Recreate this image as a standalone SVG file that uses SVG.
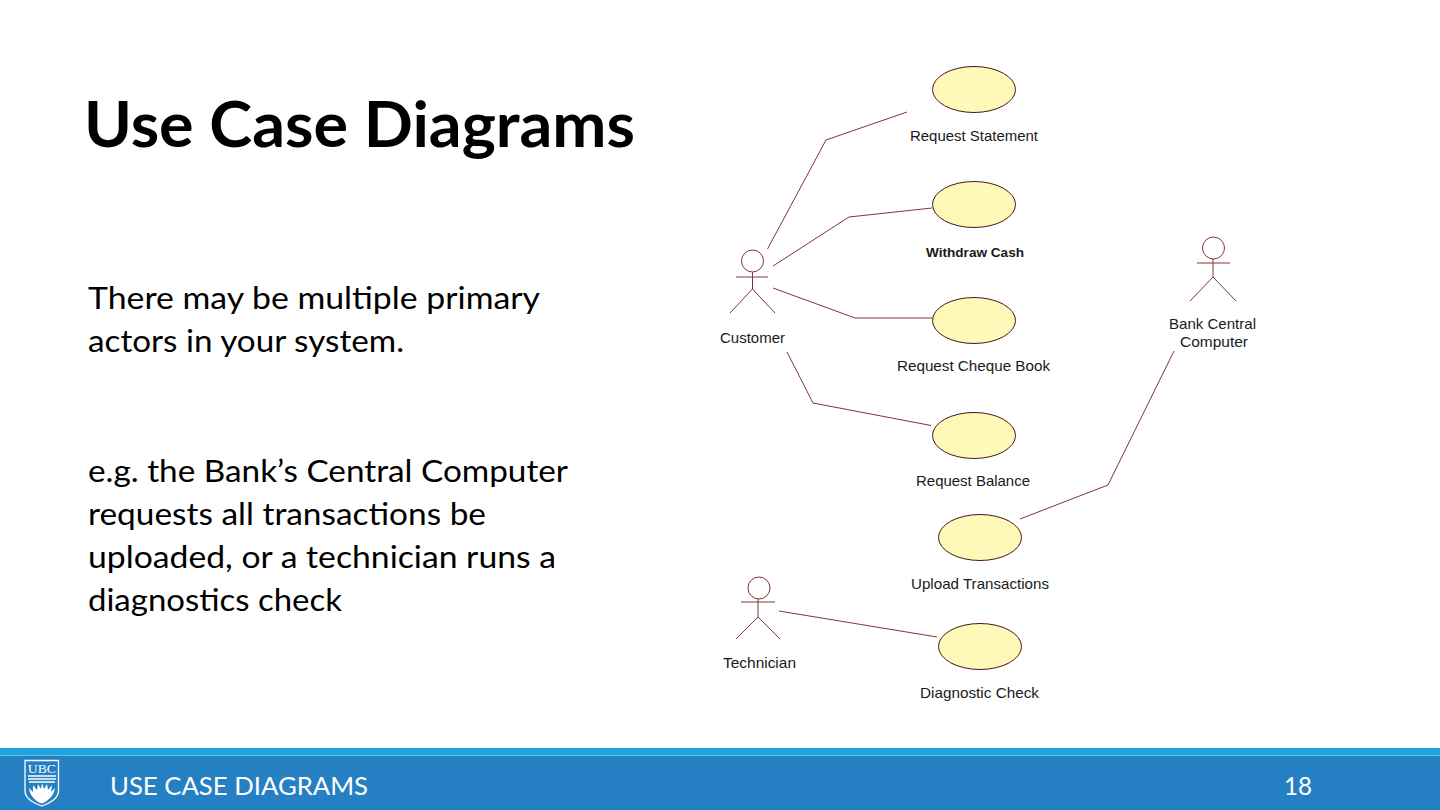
<svg xmlns="http://www.w3.org/2000/svg" width="1440" height="810" viewBox="0 0 1440 810">
<style>
.uc{fill:#fff9b9;stroke:#4a1518;stroke-width:1}
.ln{fill:none;stroke:#80343a;stroke-width:1}
.lb{font-family:"Liberation Sans",Arial,sans-serif;font-size:15px;fill:#1a1a1a}
.body{font-family:Lato,Carlito,sans-serif;font-size:31.500px;fill:#000}
.foot{font-family:Lato,Carlito,sans-serif;font-size:25px;fill:#fff}
</style>
<rect width="1440" height="810" fill="#fff"/>
<text x="84" y="147" font-family="Lato,Carlito,sans-serif" font-weight="700" font-size="63" fill="#000" textLength="551" lengthAdjust="spacingAndGlyphs">Use Case Diagrams</text>
<g id="body-text" class="body">
<text x="88" y="308.500" textLength="452" lengthAdjust="spacingAndGlyphs">There may be multiple primary</text>
<text x="88" y="351.500" textLength="316" lengthAdjust="spacingAndGlyphs">actors in your system.</text>
<text x="88" y="481.500" textLength="480" lengthAdjust="spacingAndGlyphs">e.g. the Bank’s Central Computer</text>
<text x="88" y="524.500" textLength="398" lengthAdjust="spacingAndGlyphs">requests all transactions be</text>
<text x="88" y="567.500" textLength="468" lengthAdjust="spacingAndGlyphs">uploaded, or a technician runs a</text>
<text x="88" y="610.500" textLength="254" lengthAdjust="spacingAndGlyphs">diagnostics check</text>
</g>
<g id="connectors" class="ln">
<polyline points="767.5,249 826,140 907,112"/>
<polyline points="773,266 849,217 932,208"/>
<polyline points="773,288 855,318 932,318"/>
<polyline points="787,352 813,403 931,425.500"/>
<polyline points="1020,519 1108,485 1174,351"/>
<polyline points="779,611 937,637"/>
</g>
<g id="uc-request-statement"><ellipse class="uc" cx="974" cy="89.500" rx="41.500" ry="23"/><text class="lb" x="910" y="141" textLength="128" lengthAdjust="spacingAndGlyphs">Request Statement</text></g>
<g id="uc-withdraw-cash"><ellipse class="uc" cx="974" cy="204.500" rx="41.500" ry="23"/><text class="lb" x="926" y="257" style="font-size:13px;font-weight:700" textLength="98" lengthAdjust="spacingAndGlyphs">Withdraw Cash</text></g>
<g id="uc-request-cheque"><ellipse class="uc" cx="974" cy="320.500" rx="41.500" ry="23"/><text class="lb" x="897" y="371" textLength="153" lengthAdjust="spacingAndGlyphs">Request Cheque Book</text></g>
<g id="uc-request-balance"><ellipse class="uc" cx="974" cy="435.500" rx="41.500" ry="23"/><text class="lb" x="916" y="486" textLength="114" lengthAdjust="spacingAndGlyphs">Request Balance</text></g>
<g id="uc-upload"><ellipse class="uc" cx="980" cy="537.500" rx="41.500" ry="23"/><text class="lb" x="911" y="589" textLength="138" lengthAdjust="spacingAndGlyphs">Upload Transactions</text></g>
<g id="uc-diagnostic"><ellipse class="uc" cx="980" cy="646.500" rx="41.500" ry="23"/><text class="lb" x="920" y="698" textLength="119" lengthAdjust="spacingAndGlyphs">Diagnostic Check</text></g>
<g id="actor-customer"><g class="ln"><circle cx="752.500" cy="261" r="11"/><path d="M736 277H768M752.500 272V289M730 313L752.500 289L775 313"/></g><text class="lb" x="720" y="343" textLength="65" lengthAdjust="spacingAndGlyphs">Customer</text></g>
<g id="actor-technician"><g class="ln"><circle cx="759" cy="588" r="11"/><path d="M741 602H775M758 599V617M736 639L758 617L780 639"/></g><text class="lb" x="723" y="668" textLength="73" lengthAdjust="spacingAndGlyphs">Technician</text></g>
<g id="actor-bank"><g class="ln"><circle cx="1213.500" cy="248" r="11"/><path d="M1197 263H1230M1213 259V277M1190 301L1213 277L1236 301"/></g><text class="lb" x="1169" y="329" textLength="87" lengthAdjust="spacingAndGlyphs">Bank Central</text><text class="lb" x="1180" y="347" textLength="68" lengthAdjust="spacingAndGlyphs">Computer</text></g>
<g id="footer">
<rect x="0" y="748" width="1440" height="62" fill="#2580c3"/>
<rect x="0" y="748" width="1440" height="7" fill="#1fa5dd"/>
<rect x="0" y="755" width="1440" height="1" fill="#6cc0e8"/>
<text class="foot" x="110" y="795" textLength="258" lengthAdjust="spacingAndGlyphs">USE CASE DIAGRAMS</text>
<text class="foot" x="1284" y="795" textLength="28" lengthAdjust="spacingAndGlyphs">18</text>
</g>
<g id="ubc-logo">
<path d="M25 760.500H58.500V791C58.500 799 48 804 41.800 806C35.500 804 25 799 25 791Z" fill="#2580c3" stroke="#fff" stroke-width="1.300"/>
<text x="41.800" y="773" font-family="Liberation Serif,serif" font-size="13" fill="#fff" text-anchor="middle" textLength="28" lengthAdjust="spacingAndGlyphs">UBC</text>
<path d="M28 776H56M28 779H56M29 782H55" stroke="#fff" stroke-width="1.500" fill="none"/>
<path d="M29 788L33 792L33 785L37 790L38 784L41 789L42 783L44 789L47 784L48 790L52 785L51 792L55 788C54 796 48 801 41.800 803.500C35 801 30 796 29 788Z" fill="#fff"/>
</g>
</svg>
